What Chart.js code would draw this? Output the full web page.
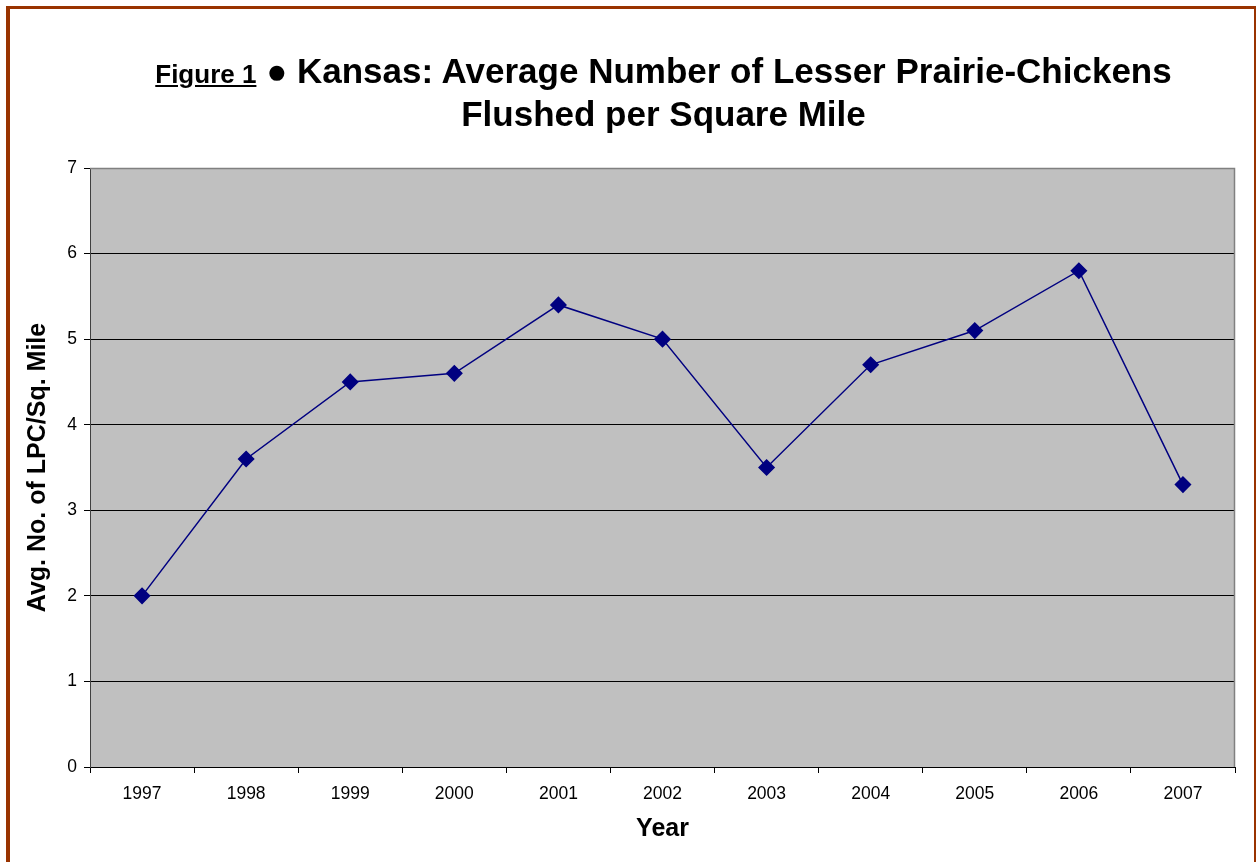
<!DOCTYPE html>
<html>
<head>
<meta charset="utf-8">
<script src="https://cdn.jsdelivr.net/npm/chart.js@4.4.0/dist/chart.umd.min.js"></script>
<style>
    html, body { margin: 0; padding: 0; background: #fff; }
    #wrap { position: relative; width: 1257px; height: 862px; overflow: hidden; }
    #frame {
        position: absolute; left: 6px; top: 6px; width: 1244px; height: 900px;
        border-left: 4px solid #993300; border-top: 3px solid #993300; border-right: 2px solid #993300;
    }
    #title {
        position: absolute; left: 0; top: 51px; width: 1327px;
        text-align: center; font-family: "Liberation Sans", Arial, sans-serif;
        font-weight: bold; font-size: 35px; line-height: 39px; color: #000;
    }
    #title .fig { font-size: 26px; text-decoration: underline; }
    canvas { position: absolute; left: 0; top: 0; }
</style>
</head>
<body>
<div id="wrap">
    <div id="frame"></div>
    <canvas id="lpcChart" width="1257" height="862"></canvas>
    <div id="title"><span class="fig">Figure 1</span> ● Kansas: Average Number of Lesser Prairie-Chickens<br>Flushed per Square Mile</div>
</div>
<script>
// Данные графика
const years = ['1997', '1998', '1999', '2000', '2001', '2002', '2003', '2004', '2005', '2006', '2007'];
const lpcPerSqMile = [2.0, 3.6, 4.5, 4.6, 5.4, 5.0, 3.5, 4.7, 5.1, 5.8, 3.3];
const yTicks = [0, 1, 2, 3, 4, 5, 6, 7];

Chart.defaults.font.family = '"Liberation Sans", Arial, sans-serif';
Chart.defaults.color = '#000';

// Серый фон области графика и рамка
const plotArea = {
    id: 'plotArea',
    beforeDraw(chart) {
        const { ctx, chartArea: a } = chart;
        ctx.save();
        ctx.fillStyle = '#c0c0c0';
        ctx.fillRect(a.left, a.top, a.right - a.left, a.bottom - a.top);
        ctx.restore();
    },
    beforeDatasetsDraw(chart) {
        const { ctx, chartArea: a } = chart;
        ctx.save();
        ctx.strokeStyle = '#808080';
        ctx.lineWidth = 1.5;
        ctx.beginPath();
        ctx.moveTo(a.left, a.top + 0.5);
        ctx.lineTo(a.right - 0.5, a.top + 0.5);
        ctx.lineTo(a.right - 0.5, a.bottom);
        ctx.stroke();
        ctx.restore();
    }
};

new Chart(document.getElementById('lpcChart').getContext('2d'), {
    type: 'line',
    data: {
        labels: years,
        datasets: [{
            data: lpcPerSqMile,
            borderColor: '#000080',
            backgroundColor: '#000080',
            borderWidth: 1.5,
            tension: 0,
            pointStyle: 'rectRot',
            pointRadius: 7.5,
            pointHoverRadius: 7.5
        }]
    },
    options: {
        responsive: false,
        animation: false,
        layout: { padding: { left: 0, top: 168, right: 22, bottom: 0 } },
        plugins: { legend: { display: false }, tooltip: { enabled: false } },
        scales: {
            x: {
                offset: true,
                afterFit: s => { s.height = 95; },
                grid: { offset: true, drawOnChartArea: false, tickLength: 6, tickColor: '#000' },
                border: { color: '#000', width: 1 },
                ticks: { font: { size: 17.5 }, padding: 11, maxRotation: 0 },
                title: { display: true, text: 'Year', font: { size: 25, weight: 'bold' }, padding: { top: 0, bottom: 18 } }
            },
            y: {
                min: 0,
                max: 7,
                afterFit: s => { s.width = 90; },
                afterBuildTicks: s => { s.ticks = yTicks.map(v => ({ value: v })); },
                grid: {
                    color: c => c.tick && c.tick.value === 7 ? '#808080' : '#000',
                    lineWidth: 1,
                    tickLength: 6,
                    tickColor: '#000'
                },
                border: { color: '#404040', width: 1 },
                ticks: { font: { size: 17.5 }, padding: 7 },
                title: { display: true, text: 'Avg. No. of LPC/Sq. Mile', font: { size: 25, weight: 'bold' }, padding: { top: 23, bottom: 0 } }
            }
        }
    },
    plugins: [plotArea]
});
</script>
</body>
</html>
